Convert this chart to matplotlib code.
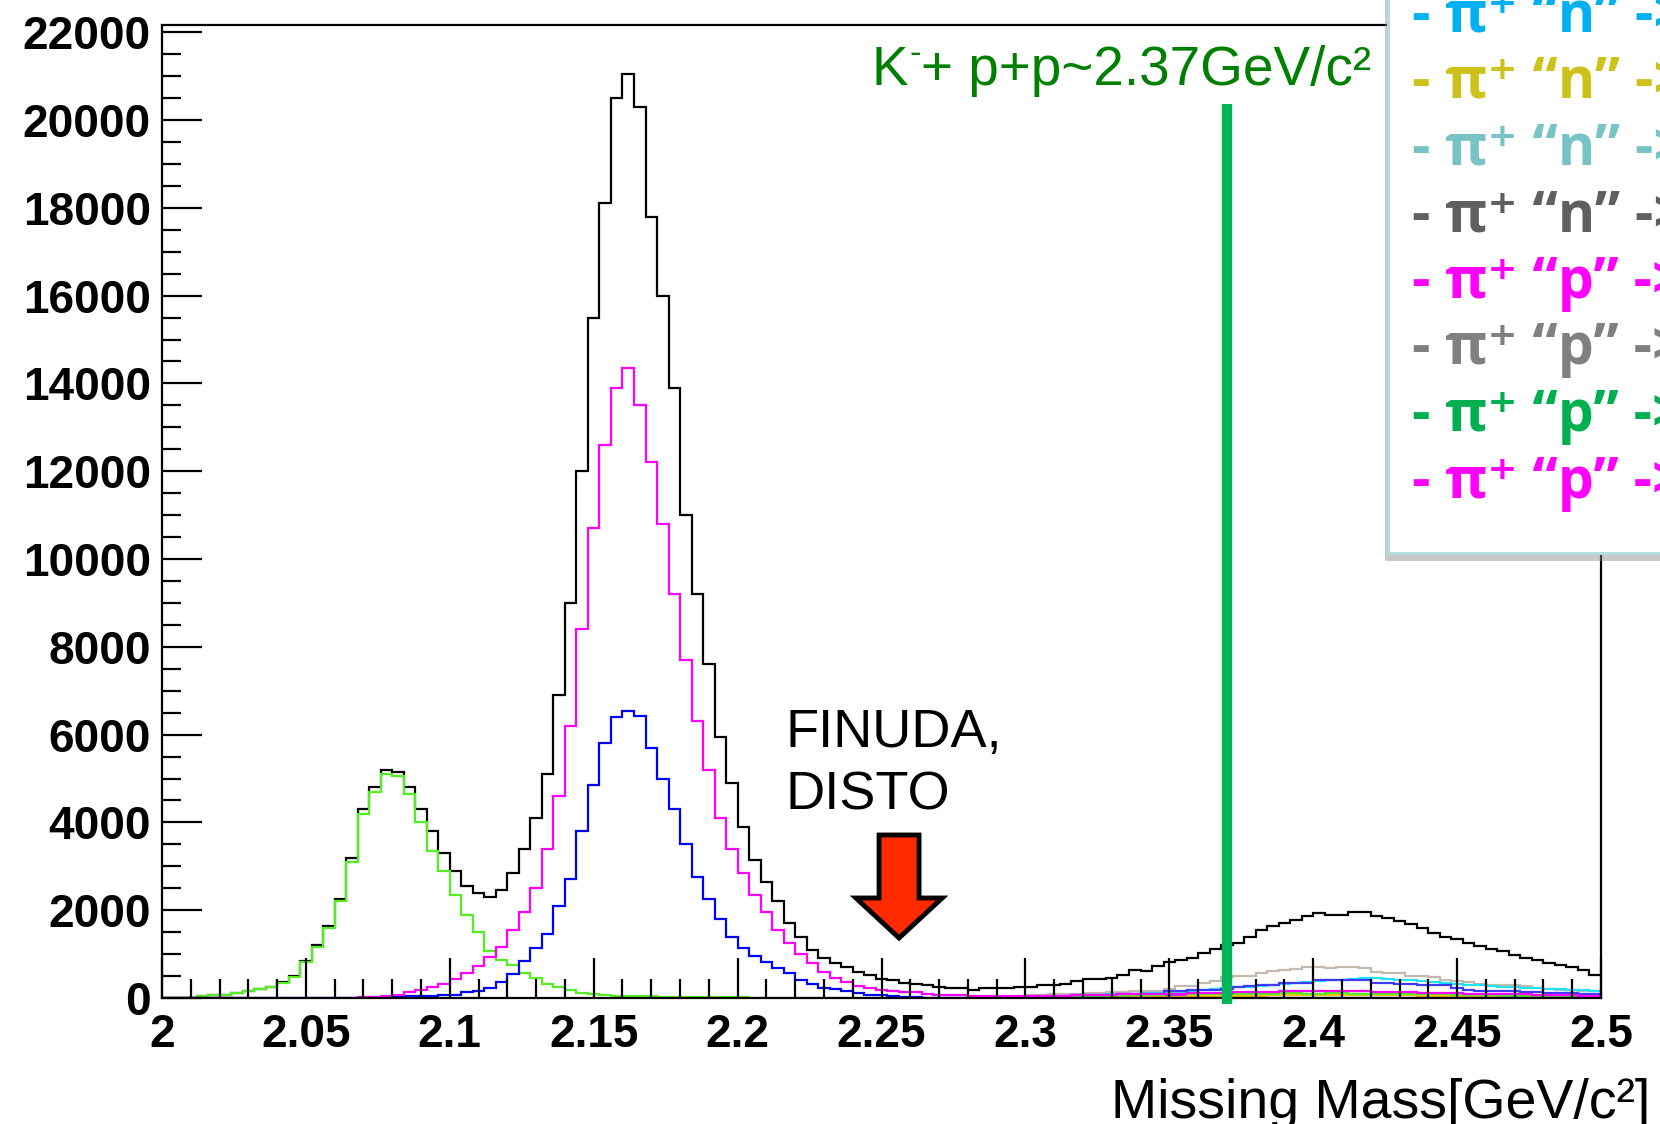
import numpy as np
import matplotlib.pyplot as plt
import matplotlib.patheffects as pe
from matplotlib.patches import Rectangle
from matplotlib.ticker import MultipleLocator

# bins of 0.004 GeV/c^2 from 2.0 to 2.5
bin_width = 0.004
edges = 2.0 + bin_width * np.arange(126)

total = [0, 0, 0,
         40, 60, 70, 120, 160, 210, 260, 360, 500, 850, 1200, 1630, 2250, 3200, 4300,
         4800, 5200, 5150, 4800, 4300, 3800, 3300, 2900,
         2550, 2400, 2300, 2450, 2850, 3400, 4100, 5100, 6900, 9000, 12000,
         15500, 18100, 20500, 21050, 20300, 17800, 16000, 13900, 11000,
         9200, 7600, 5950, 4900, 3900, 3150,
         2650, 2200, 1700, 1400, 1100, 920, 800, 700, 600, 520,
         440, 400, 350, 320, 296, 250, 220, 220, 190, 220,
         220, 220, 250,
         260, 285, 300, 330, 390, 430, 440, 460,
         530, 635, 615, 720, 820, 860, 910, 1025, 1120, 1210,
         1260, 1400, 1540, 1630, 1710, 1770, 1860, 1930, 1900, 1890,
         1970, 1960, 1860, 1820, 1760, 1680, 1590, 1470, 1400, 1340,
         1250, 1180, 1120, 1070, 980, 905, 860, 800, 745, 710,
         635, 530]

lime = [0, 0, 0,
        40, 60, 60, 110, 150, 200, 250, 340, 480, 820, 1170, 1590, 2200, 3100, 4200,
        4700, 5100, 5050, 4650, 4000, 3350, 2900, 2350,
        1900, 1500, 1080, 860, 760, 560, 450, 320, 260, 180, 120, 80,
        65, 55, 45, 40, 35, 30, 25, 20, 20, 20, 15, 15, 15,
        10, 10, 10, 10, 10, 10, 10, 10, 10, 10, 10, 10,
        10, 10, 10, 10, 10, 10, 10, 10, 10, 10, 10, 10,
        20, 20, 20, 30, 30, 40, 40, 50, 50, 60,
        70, 70, 80, 80, 90, 90, 90, 100, 100, 100,
        100, 100, 110, 110, 100, 100, 110, 110, 100, 100,
        100, 100, 90, 90, 90, 80, 80, 70, 70, 60,
        60, 50, 50, 40, 40, 30, 30, 20, 20, 20]

magenta = [0, 0, 0, 0, 0, 0, 0, 0, 0, 0, 0, 0, 0, 0, 0, 0, 0,
           20, 30, 50, 75, 130, 190, 260, 330, 440, 560, 720, 930, 1170, 1550,
           1950, 2500, 3400, 4600, 6200, 8400, 10700, 12600, 13900, 14350,
           13500, 12200, 10800, 9200, 7700, 6300, 5200, 4100, 3400, 2850,
           2350, 1950, 1550, 1250, 1000, 800, 600, 450, 360, 280, 220, 180, 150,
           145, 130, 80, 70, 65, 60, 50, 50, 40, 40, 40,
           40, 40, 50, 50, 60, 60, 70, 70, 80, 80,
           90, 90, 100, 100, 110, 110, 120, 120, 130, 130,
           140, 140, 150, 150, 150, 150, 160, 160, 150, 150,
           140, 140, 130, 130, 120, 120, 110, 110, 100, 100,
           90, 90, 80, 80, 70, 70, 60, 60, 50, 50]

blue = [0, 0, 0, 0, 0, 0, 0, 0, 0, 0, 0, 0, 0, 0, 0, 0, 0,
        10, 15, 20, 25, 35, 45, 55, 65, 75, 130, 160, 230, 370, 550,
        850, 1150, 1450, 2100, 2700, 3800, 4850, 5800, 6400, 6530,
        6420, 5700, 5000, 4300, 3500, 2750, 2250, 1800, 1400, 1150,
        950, 820, 680, 560, 420, 330, 230, 200, 150, 120,
        70, 65, 40, 20, 15, 10, 10, 10, 5, 5, 5, 5, 5, 5,
        0, 0, 0, 0, 0, 0, 0, 0, 0, 0, 0, 0, 0, 0, 0, 0, 0, 0, 0, 0, 0, 0, 0, 0, 0,
        0, 0, 0, 0, 0, 0, 0, 0, 0, 0, 0, 0, 0, 0, 0, 0, 0, 0, 0, 0, 0, 0, 0, 0, 0]

# small channels above 2.3 GeV/c^2 (bins 75..124)
tan = [60, 70, 80, 90, 100, 110, 120, 130, 140, 150,
       150, 160, 200, 265, 270, 350, 390, 480, 500, 510,
       560, 610, 640, 660, 700, 710, 690, 700, 715, 690,
       600, 560, 560, 500, 490, 470, 420, 380, 370, 330,
       300, 300, 290, 280, 220, 200, 190, 180, 170, 160]

cyan = [20, 20, 30, 30, 40, 60, 70, 80, 90, 100,
        110, 110, 120, 140, 160, 190, 210, 230, 240, 260,
        280, 300, 320, 340, 360, 380, 400, 420, 440, 450,
        455, 440, 420, 400, 380, 360, 340, 320, 300, 290,
        270, 250, 240, 230, 220, 210, 200, 190, 180, 170]

blue2 = [40, 40, 50, 50, 60, 60, 70, 70, 80, 80,
         90, 100, 150, 160, 190, 190, 190, 200, 260, 270,
         290, 300, 340, 340, 350, 410, 420, 410, 400, 400,
         350, 340, 330, 310, 300, 300, 290, 220, 180, 170,
         170, 160, 150, 140, 130, 120, 115, 110, 100, 100]

violet = [20, 20, 30, 30, 30, 40, 40, 40, 50, 50,
          50, 60, 60, 60, 70, 70, 70, 80, 80, 80,
          80, 80, 90, 90, 90, 90, 90, 90, 90, 90,
          80, 80, 80, 80, 70, 70, 70, 60, 60, 60,
          50, 50, 50, 40, 40, 40, 30, 30, 30, 30]

yellow = [0, 0, 0, 0, 0, 10, 10, 10, 20, 20,
          20, 30, 30, 30, 40, 40, 40, 50, 50, 50,
          50, 60, 60, 60, 60, 60, 60, 60, 60, 60,
          60, 60, 60, 60, 50, 50, 50, 50, 50, 40,
          40, 40, 40, 30, 30, 30, 20, 20, 20, 20]

x_ticks = [2.0, 2.05, 2.1, 2.15, 2.2, 2.25, 2.3, 2.35, 2.4, 2.45, 2.5]
x_tick_labels = ['2', '2.05', '2.1', '2.15', '2.2', '2.25', '2.3', '2.35', '2.4', '2.45', '2.5']
y_ticks = [0, 2000, 4000, 6000, 8000, 10000, 12000, 14000, 16000, 18000, 20000, 22000]

legend_rows = ['- π⁺ “n” ->', '- π⁺ “n” ->', '- π⁺ “n” ->', '- π⁺ “n” ->',
               '- π⁺ “p” ->', '- π⁺ “p” ->', '- π⁺ “p” ->', '- π⁺ “p” ->']
legend_colors = ['#00b0f0', '#cdc21a', '#78c3c6', '#606060',
                 '#ff00ff', '#808080', '#00b050', '#ff00ff']

threshold = 2.37
threshold_top = 20370

W, H = 1660, 1124
fig = plt.figure(figsize=(W / 100, H / 100), dpi=100)
ax = fig.add_axes([162 / W, 1 - 998 / H, (1601 - 162) / W, (998 - 25) / H])

lw = 1.6
ax.stairs(total, edges, color='black', lw=lw, baseline=None)
tail = edges[75:]
ax.stairs(tan, tail, color='#c4bab0', lw=lw, baseline=None)
ax.stairs(cyan, tail, color='#1ee4f4', lw=lw, baseline=None)
ax.stairs(blue2, tail, color='#3c3cff', lw=lw, baseline=None)
ax.stairs(violet, tail, color='#8a2be2', lw=lw, baseline=None)
ax.stairs(yellow, tail, color='#ffc000', lw=lw, baseline=None)
ax.stairs(lime, edges, color='#55ee22', lw=lw, baseline=None)
ax.stairs(blue, edges, color='#0000ff', lw=lw, baseline=None)
ax.stairs(magenta, edges, color='#ff00ff', lw=lw, baseline=None)

ax.plot([threshold, threshold], [-140, threshold_top], color='#00b45a', lw=7.5,
        solid_capstyle='butt', clip_on=False, zorder=4)

# FINUDA / DISTO arrow
ax.arrow(2.2561, 3713, 0, -(3713 - 1367), width=0.0139, head_width=0.0300,
         head_length=911, length_includes_head=True, fc='#ff2a00', ec='black',
         lw=3.5, zorder=5, joinstyle='miter')

ax.set_xlim(2.0, 2.5)
ax.set_ylim(0, 22165)
ax.set_xticks(x_ticks)
ax.set_xticklabels(x_tick_labels)
ax.set_yticks(y_ticks)
ax.set_yticklabels([str(v) for v in y_ticks])
ax.xaxis.set_minor_locator(MultipleLocator(0.01))
ax.yaxis.set_minor_locator(MultipleLocator(500))
ax.tick_params(which='major', direction='in', length=29, width=1.6, top=False, right=False)
ax.tick_params(which='minor', direction='in', length=14, width=1.6, top=False, right=False)
ax.tick_params(axis='x', which='both', pad=11)
ax.tick_params(axis='y', which='both', pad=8)
for lab in ax.get_xticklabels() + ax.get_yticklabels():
    lab.set_fontfamily('Liberation Sans')
    lab.set_fontweight('bold')
    lab.set_fontsize(33)
for s in ax.spines.values():
    s.set_linewidth(1.6)

sans = ['Liberation Sans', 'DejaVu Sans']
green_txt = '#008000'
renderer = fig.canvas.get_renderer()
k = fig.text(871 / W, 1 - 85 / H, 'K', color=green_txt, fontsize=39.5,
             family=sans, va='baseline', ha='left')
kx = k.get_window_extent(renderer).x1
minus = fig.text(kx / W + 0.001, 1 - 63 / H, '-', color=green_txt, fontsize=25,
                 family=sans, va='baseline', ha='left')
mx = minus.get_window_extent(renderer).x1
fig.text(mx / W, 1 - 85 / H, '+ p+p~2.37GeV/c²', color=green_txt, fontsize=39.5,
         family=sans, va='baseline', ha='left')
fig.text(785 / W, 1 - 747 / H, 'FINUDA,', color='black', fontsize=39,
         family=sans, va='baseline', ha='left')
fig.text(785 / W, 1 - 810 / H, 'DISTO', color='black', fontsize=39,
         family=sans, va='baseline', ha='left')
fig.text(1650 / W, 1 - 1118 / H, 'Missing Mass[GeV/c²]', color='black', fontsize=40,
         family=sans, va='baseline', ha='right')

# legend box, cut by the figure edge
box = Rectangle((1388 / W, 1 - 553 / H), 0.3, 0.6, transform=fig.transFigure,
                facecolor='white', edgecolor='#b3dbe0', lw=2.2, zorder=5,
                path_effects=[pe.SimplePatchShadow(offset=(-2, -6), shadow_rgbFace='#888888', alpha=0.45),
                              pe.Normal()])
fig.add_artist(box)
for i, (row, col) in enumerate(zip(legend_rows, legend_colors)):
    base = 31 + 66.7 * i
    fig.text(1412 / W, 1 - base / H, row, color=col, fontsize=41, fontweight='bold',
             family=['Open Sans', 'DejaVu Sans'], va='baseline', ha='left', zorder=6)

fig.savefig('out.png', dpi=100)
